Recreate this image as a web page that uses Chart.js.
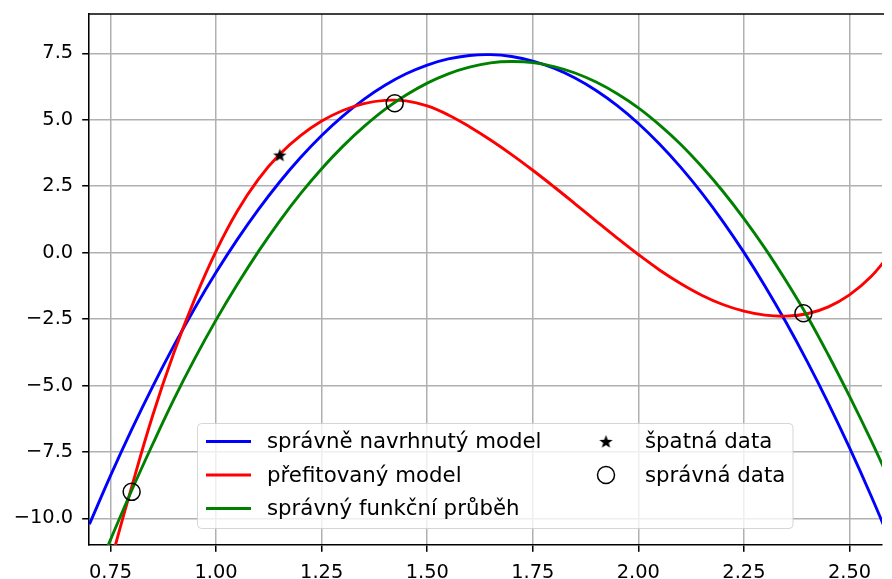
<!DOCTYPE html>
<html>
<head>
<meta charset="utf-8">
<script src="https://cdn.jsdelivr.net/npm/chart.js@4.4.1/dist/chart.umd.min.js"></script>
<style>
  html, body { margin: 0; padding: 0; background: #fff; overflow: hidden; }
  #wrap { width: 892px; height: 579px; }
</style>
</head>
<body>
<div id="wrap"><canvas id="fitChart"></canvas></div>
<script>
// tick positions and labels
const xTicks = [0.75, 1.0, 1.25, 1.5, 1.75, 2.0, 2.25, 2.5];
const xTickLabels = ['0.75', '1.00', '1.25', '1.50', '1.75', '2.00', '2.25', '2.50'];
const yTicks = [-10, -7.5, -5, -2.5, 0, 2.5, 5, 7.5];
const yTickLabels = ['\u221210.0', '\u22127.5', '\u22125.0', '\u22122.5', '0.0', '2.5', '5.0', '7.5'];

const xs = [0.70, 0.75, 0.80, 0.85, 0.90, 0.95, 1.00, 1.05, 1.10, 1.15, 1.20, 1.25, 1.30,
            1.35, 1.40, 1.45, 1.50, 1.55, 1.60, 1.65, 1.70, 1.75, 1.80, 1.85, 1.90, 1.95,
            2.00, 2.05, 2.10, 2.15, 2.20, 2.25, 2.30, 2.35, 2.40, 2.45, 2.50, 2.55, 2.60];

// správně navrhnutý model (blue)
const modelY = [-10.22, -8.39, -6.66, -5.03, -3.50, -2.07, -0.74, 0.49, 1.62, 2.65, 3.58, 4.41, 5.14,
                5.77, 6.30, 6.73, 7.06, 7.29, 7.42, 7.45, 7.38, 7.21, 6.94, 6.57, 6.10, 5.53,
                4.86, 4.09, 3.22, 2.25, 1.18, 0.01, -1.26, -2.63, -4.10, -5.67, -7.34, -9.11, -10.98];

// přefitovaný model (red)
const overfitY = [-15.0, -11.7, -8.82, -6.12, -3.77, -1.72, 0.06, 1.56, 2.76, 3.69, 4.40, 4.95, 5.35,
                  5.61, 5.73, 5.71, 5.52, 5.18, 4.74, 4.24, 3.69, 3.10, 2.48, 1.84, 1.19, 0.55,
                  -0.07, -0.65, -1.16, -1.60, -1.95, -2.20, -2.35, -2.39, -2.30, -2.04, -1.59, -0.92, 0.03];

// správný funkční průběh (green)
const trueY = [-12.7, -10.8, -8.95, -7.2, -5.52, -3.97, -2.53, -1.20, 0.04, 1.18, 2.22, 3.16, 4.00,
               4.74, 5.39, 5.93, 6.38, 6.73, 6.98, 7.14, 7.19, 7.15, 7.00, 6.76, 6.42, 5.98,
               5.45, 4.81, 4.08, 3.24, 2.31, 1.28, 0.16, -1.07, -2.39, -3.85, -5.40, -7.03, -8.75];

// data points
const badX = [1.151];
const badY = [3.67];
const goodX = [0.800, 1.423, 2.391];
const goodY = [-9.0, 5.62, -2.28];

const seriesNames = ['správně navrhnutý model', 'přefitovaný model', 'správný funkční průběh', 'špatná data', 'správná data'];

const FONT = 'DejaVu Sans';
const FS = 19.4;
const LEGEND_FS = 21.3;
const LW = 1.55;

function pts(x, y) {
  return x.map((v, i) => ({ x: v, y: y[i] }));
}

// filled star marker
function makeStar(size) {
  const c = document.createElement('canvas');
  c.width = size; c.height = size;
  const g = c.getContext('2d');
  const cx = size / 2, cy = size / 2 + 0.6;
  const ro = size / 2 - 0.5, ri = ro * 0.42;
  g.beginPath();
  for (let i = 0; i < 10; i++) {
    const r = i % 2 ? ri : ro;
    const a = -Math.PI / 2 + i * Math.PI / 5;
    const px = cx + r * Math.cos(a), py = cy + r * Math.sin(a);
    if (i === 0) g.moveTo(px, py); else g.lineTo(px, py);
  }
  g.closePath();
  g.fillStyle = '#000';
  g.fill();
  return c;
}
const starImg = makeStar(15);

function lineSet(label, data, color, order) {
  return {
    label: label,
    data: data,
    showLine: true,
    borderColor: color,
    backgroundColor: color,
    borderWidth: 2.9,
    pointRadius: 0,
    tension: 0.4,
    clip: 0,
    order: order
  };
}

const frame = {
  id: 'frame',
  afterDraw(chart) {
    const ctx = chart.ctx;
    const a = chart.chartArea;
    ctx.save();
    ctx.strokeStyle = '#000';
    ctx.lineWidth = LW;
    ctx.beginPath();
    ctx.moveTo(a.left - LW / 2, a.top);
    ctx.lineTo(a.right + 2, a.top);
    ctx.stroke();
    ctx.restore();
  }
};

const boxLegend = {
  id: 'boxLegend',
  afterDraw(chart) {
    const ctx = chart.ctx;
    const ds = chart.data.datasets;
    const bx = 197.5, by = 423.5, bw = 595.5, bh = 105;
    ctx.save();
    ctx.beginPath();
    ctx.roundRect(bx, by, bw, bh, 4);
    ctx.fillStyle = 'rgba(255,255,255,0.8)';
    ctx.fill();
    ctx.strokeStyle = 'rgba(204,204,204,0.8)';
    ctx.lineWidth = 1;
    ctx.stroke();

    const rows = [441.5, 475, 508.5];
    ctx.font = LEGEND_FS + 'px "' + FONT + '"';
    ctx.textBaseline = 'middle';
    ctx.fillStyle = '#000';
    for (let i = 0; i < 3; i++) {
      ctx.strokeStyle = ds[i].borderColor;
      ctx.lineWidth = 2.9;
      ctx.beginPath();
      ctx.moveTo(206, rows[i]);
      ctx.lineTo(251, rows[i]);
      ctx.stroke();
      ctx.fillText(ds[i].label, 267, rows[i] + 1);
    }
    ctx.drawImage(starImg, 606 - starImg.width / 2, rows[0] - starImg.height / 2);
    ctx.fillText(ds[3].label, 645, rows[0] + 1);
    ctx.beginPath();
    ctx.arc(606, rows[1], 8.5, 0, Math.PI * 2);
    ctx.strokeStyle = '#000';
    ctx.lineWidth = 1.5;
    ctx.stroke();
    ctx.fillText(ds[4].label, 645, rows[1] + 1);
    ctx.restore();
  }
};

new Chart(document.getElementById('fitChart'), {
  type: 'scatter',
  data: {
    datasets: [
      lineSet(seriesNames[0], pts(xs, modelY), '#0000ff', 3),
      lineSet(seriesNames[1], pts(xs, overfitY), '#ff0000', 2),
      lineSet(seriesNames[2], pts(xs, trueY), '#008000', 1),
      {
        label: seriesNames[3],
        data: pts(badX, badY),
        pointStyle: starImg,
        pointRadius: 7,
        order: 0
      },
      {
        label: seriesNames[4],
        data: pts(goodX, goodY),
        pointStyle: 'circle',
        pointRadius: 8.5,
        borderColor: '#000',
        borderWidth: 1.5,
        backgroundColor: 'rgba(0,0,0,0)',
        order: 0
      }
    ]
  },
  options: {
    responsive: true,
    maintainAspectRatio: false,
    devicePixelRatio: 1,
    animation: false,
    layout: { padding: { top: 14, left: 0, right: 0, bottom: 0 } },
    plugins: {
      legend: { display: false },
      tooltip: { enabled: false }
    },
    scales: {
      x: {
        type: 'linear',
        min: 0.699,
        max: 2.577,
        afterBuildTicks: s => { s.ticks = xTicks.map(v => ({ value: v })); },
        afterFit: s => { s.height = 34; s.paddingLeft = 0; s.paddingRight = 0; },
        grid: {
          color: '#b0b0b0',
          lineWidth: 1.5,
          drawTicks: true,
          tickLength: 6.8,
          tickColor: '#000',
          tickWidth: LW
        },
        border: { display: true, color: '#000', width: LW },
        ticks: {
          color: '#000',
          padding: 10,
          maxRotation: 0,
          autoSkip: false,
          font: { family: FONT, size: FS },
          callback: v => xTickLabels[xTicks.indexOf(v)]
        }
      },
      y: {
        type: 'linear',
        min: -11.0,
        max: 8.98,
        afterBuildTicks: s => { s.ticks = yTicks.map(v => ({ value: v })); },
        afterFit: s => { s.width = 89; s.paddingTop = 0; s.paddingBottom = 0; },
        grid: {
          color: '#b0b0b0',
          lineWidth: 1.5,
          drawTicks: true,
          tickLength: 6.8,
          tickColor: '#000',
          tickWidth: LW
        },
        border: { display: true, color: '#000', width: LW },
        ticks: {
          color: '#000',
          padding: 9,
          autoSkip: false,
          font: { family: FONT, size: FS },
          callback: v => yTickLabels[yTicks.indexOf(v)]
        }
      }
    }
  },
  plugins: [frame, boxLegend]
});
</script>
</body>
</html>
